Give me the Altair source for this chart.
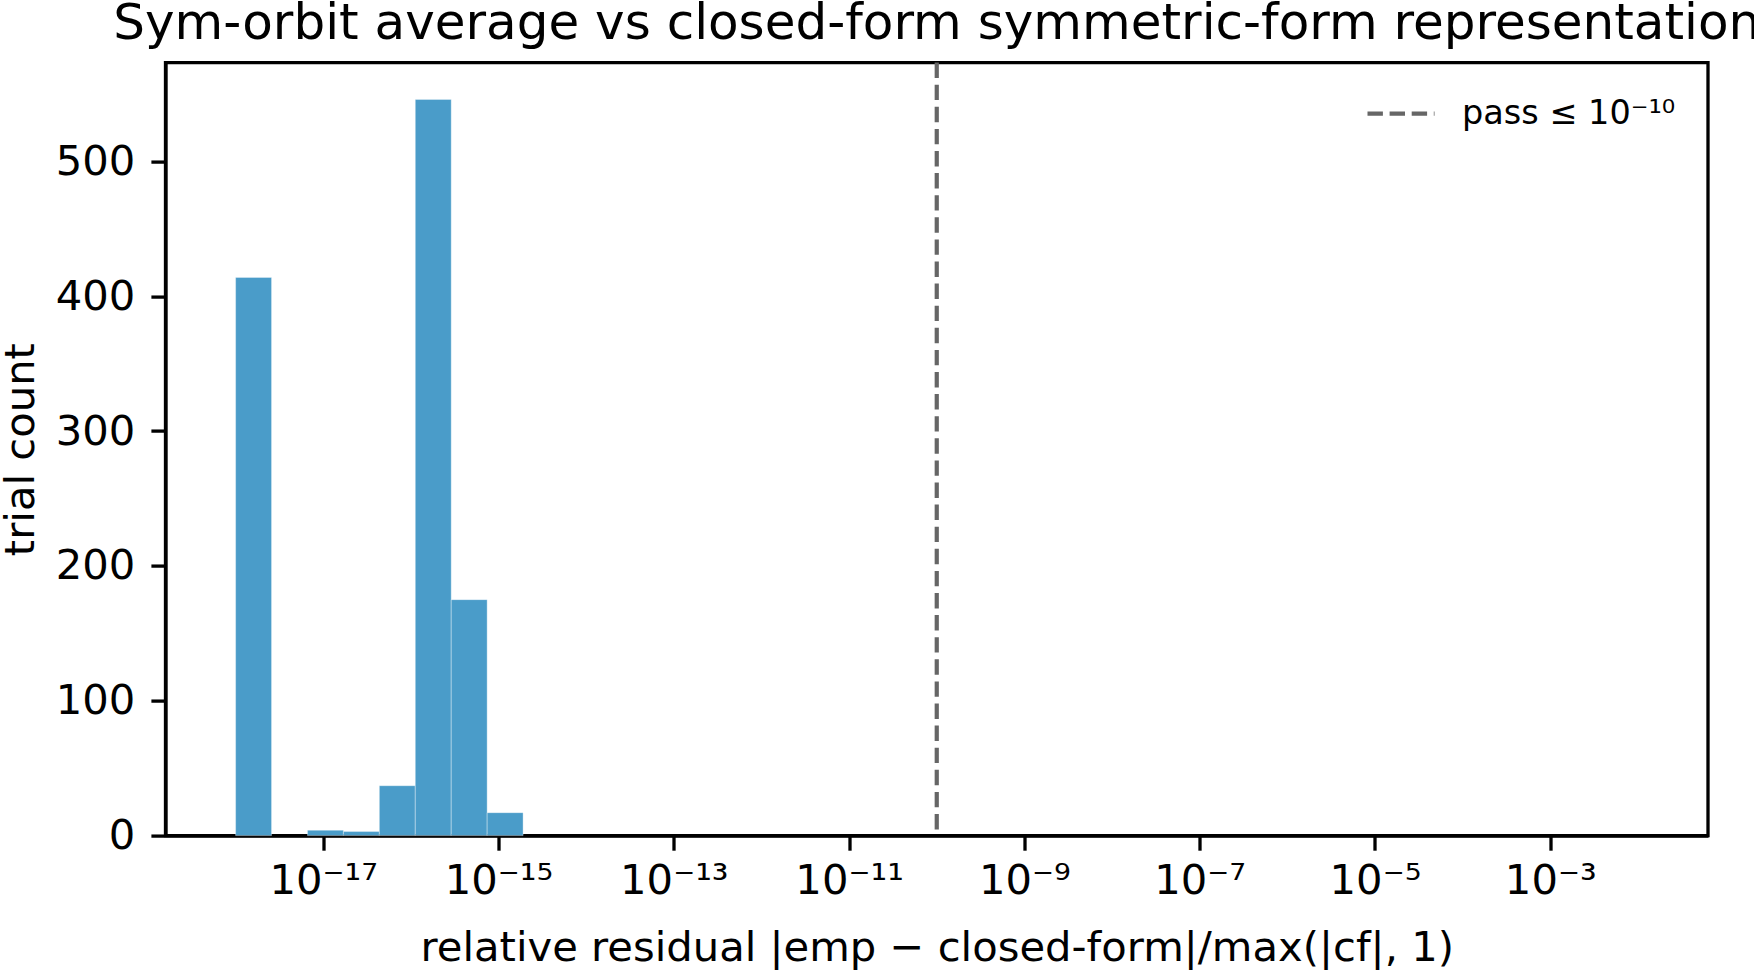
import altair as alt
import pandas as pd

# ---- data ----
# bin edges (log10 of the residual)
bin_left_exp = [-18.0, -17.18, -16.77, -16.36, -15.95, -15.54, -15.13]
bin_right_exp = [-17.59, -16.77, -16.36, -15.95, -15.54, -15.13, -14.72]
counts = [414, 4, 3, 37, 546, 175, 17]

threshold = [1e-10]
threshold_label = ["pass  ≤ 10⁻¹⁰"]

x_tick_exps = [-17, -15, -13, -11, -9, -7, -5, -3]
y_ticks = [0, 100, 200, 300, 400, 500]
x_domain_exp = [-18.8, -1.2]
y_domain = [0, 573.3]

TITLE = "Sym-orbit average vs closed-form symmetric-form representation"
XTITLE = "relative residual |emp − closed-form|/max(|cf|, 1)"
YTITLE = "trial count"

# ---- helpers ----
SUP = str.maketrans("-0123456789", "⁻⁰¹²³⁴⁵⁶⁷⁸⁹")


def sup_label(e):
    return "10" + str(e).translate(SUP)


label_expr = "''"
for e in x_tick_exps:
    label_expr = f"round(log(datum.value)/LN10) == {e} ? '{sup_label(e)}' : ({label_expr})"

bars_df = pd.DataFrame({
    "x": [10 ** e for e in bin_left_exp],
    "x2": [10 ** e for e in bin_right_exp],
    "count": counts,
})
rule_df = pd.DataFrame({"x": threshold, "label": threshold_label})

FONT = "DejaVu Sans"
x_scale = alt.Scale(type="log", domain=[10 ** e for e in x_domain_exp], nice=False)
y_scale = alt.Scale(domain=y_domain, nice=False, zero=True)

bars = alt.Chart(bars_df).mark_rect(
    color="#4A9CC9", stroke="#ffffff", strokeOpacity=0.35, strokeWidth=1
).encode(
    x=alt.X("x:Q", scale=x_scale,
            axis=alt.Axis(values=[10 ** e for e in x_tick_exps], labelExpr=label_expr,
                          title=XTITLE, labelPadding=10, titlePadding=26,
                          labelFlush=False, labelOverlap=False)),
    x2="x2:Q",
    y=alt.Y("count:Q", scale=y_scale,
            axis=alt.Axis(values=y_ticks, title=YTITLE, labelPadding=16, titlePadding=13)),
    y2=alt.datum(0),
)

rule = alt.Chart(rule_df).mark_rule(strokeDash=[15.4, 6.7], strokeWidth=4.2).encode(
    x=alt.X("x:Q", scale=x_scale),
    color=alt.Color(
        "label:N",
        scale=alt.Scale(range=["#666666"]),
        legend=alt.Legend(
            title=None, orient="none", legendX=1199.5, legendY=15,
            symbolType="stroke", symbolSize=4489, symbolStrokeWidth=4.2,
            symbolDash=[15.4, 6.7], labelFontSize=33.5, labelFont=FONT,
            labelColor="black", labelOffset=25, padding=0, labelLimit=0,
        ),
    ),
)

chart = alt.layer(bars, rule).properties(
    width=1542.5,
    height=773,
    autosize=alt.AutoSizeParams(type="none"),
    padding={"left": 165.5, "top": 62.6, "right": 46, "bottom": 134.4},
    title=alt.TitleParams(TITLE, font=FONT, fontSize=50, fontWeight="normal",
                          color="black", anchor="middle", offset=12),
).configure_view(
    stroke="black", strokeWidth=3.3
).configure_axis(
    grid=False,
    domainColor="black", domainWidth=3.3,
    tickColor="black", tickWidth=3.3, tickSize=14.6,
    labelFont=FONT, labelFontSize=41.7, labelColor="black",
    titleFont=FONT, titleFontSize=41.7, titleFontWeight="normal", titleColor="black",
)

chart.save("out.html", embed_options={"renderer": "svg", "actions": False})
